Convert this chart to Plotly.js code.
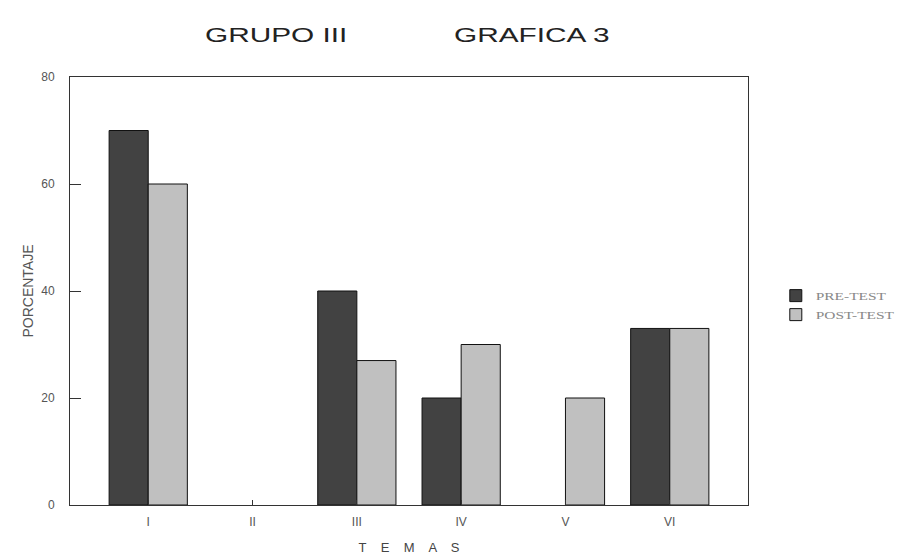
<!DOCTYPE html>
<html>
<head>
<meta charset="utf-8">
<script src="https://cdn.plot.ly/plotly-3.0.1.min.js"></script>
<style>
html,body{margin:0;padding:0;background:#fff;}
#chart{width:914px;height:559px;}
.annotation-text{transform-box:fill-box;transform-origin:center;transform:scaleX(1.42);}
.legendtext{transform-box:fill-box;transform-origin:left center;transform:scaleX(1.4);}
</style>
</head>
<body>
<div id="chart"></div>
<script>
var categories = ["I", "II", "III", "IV", "V", "VI"];
var preTest = [70, null, 40, 20, null, 33];
var postTest = [60, null, 27, 30, 20, 33];
var seriesNames = ["PRE-TEST", "POST-TEST"];
var yTicks = [0, 20, 40, 60, 80];

var traces = [
  {
    type: "bar", name: seriesNames[0], x: categories, y: preTest,
    marker: {
      color: "#333333",
      line: {color: "#111111", width: 1},
      pattern: {shape: ".", bgcolor: "#2c2c2c", fgcolor: "#5e5e5e", size: 2, solidity: 0.5, fillmode: "replace"}
    }
  },
  {
    type: "bar", name: seriesNames[1], x: categories, y: postTest,
    marker: {
      color: "#cccccc",
      line: {color: "#111111", width: 1},
      pattern: {shape: ".", bgcolor: "#d8d8d8", fgcolor: "#a2a2a2", size: 2, solidity: 0.5, fillmode: "replace"}
    }
  }
];

var layout = {
  width: 914, height: 559,
  margin: {l: 70, r: 166, t: 77, b: 54},
  paper_bgcolor: "#ffffff", plot_bgcolor: "#ffffff",
  barmode: "group", bargap: 0.25, bargroupgap: 0,
  font: {family: "Liberation Sans, Arial, sans-serif", color: "#444"},
  showlegend: true,
  legend: {
    x: 1.041, y: 0.467, xanchor: "left", yanchor: "middle",
    font: {family: "Liberation Serif, serif", size: 11, color: "#888"},
    bgcolor: "rgba(0,0,0,0)", tracegroupgap: 0, itemwidth: 30
  },
  xaxis: {
    type: "category", range: [-0.75, 5.75],
    showline: true, linecolor: "#333", linewidth: 1, mirror: true,
    ticks: "inside", ticklen: 5, tickcolor: "#333",
    tickfont: {size: 12, color: "#555"}, ticklabelstandoff: 6,
    showgrid: false, zeroline: false,
    title: {text: "T    E    M    A    S", font: {size: 13, color: "#444"}, standoff: 14}
  },
  yaxis: {
    range: [0, 80], tickvals: yTicks,
    showline: true, linecolor: "#333", linewidth: 1, mirror: true,
    ticks: "inside", ticklen: 11, tickcolor: "#333",
    tickfont: {size: 12, color: "#555"}, ticklabelstandoff: 12,
    showgrid: false, zeroline: false,
    title: {text: "PORCENTAJE", font: {size: 14, color: "#555"}, standoff: 4}
  },
  annotations: [
    {text: "GRUPO III", xref: "paper", yref: "paper", x: (276 - 70) / 678, y: 1 + (77 - 35) / 428,
     xanchor: "center", yanchor: "middle", showarrow: false,
     font: {size: 21, color: "#222", family: "Liberation Sans, Arial, sans-serif"}},
    {text: "GRAFICA 3", xref: "paper", yref: "paper", x: (532 - 70) / 678, y: 1 + (77 - 35) / 428,
     xanchor: "center", yanchor: "middle", showarrow: false,
     font: {size: 21, color: "#222", family: "Liberation Sans, Arial, sans-serif"}}
  ]
};

Plotly.newPlot("chart", traces, layout, {displayModeBar: false, staticPlot: true}).then(function () {
  document.querySelectorAll(".legend [clip-path]").forEach(function (el) {
    el.removeAttribute("clip-path");
  });
});
</script>
</body>
</html>
